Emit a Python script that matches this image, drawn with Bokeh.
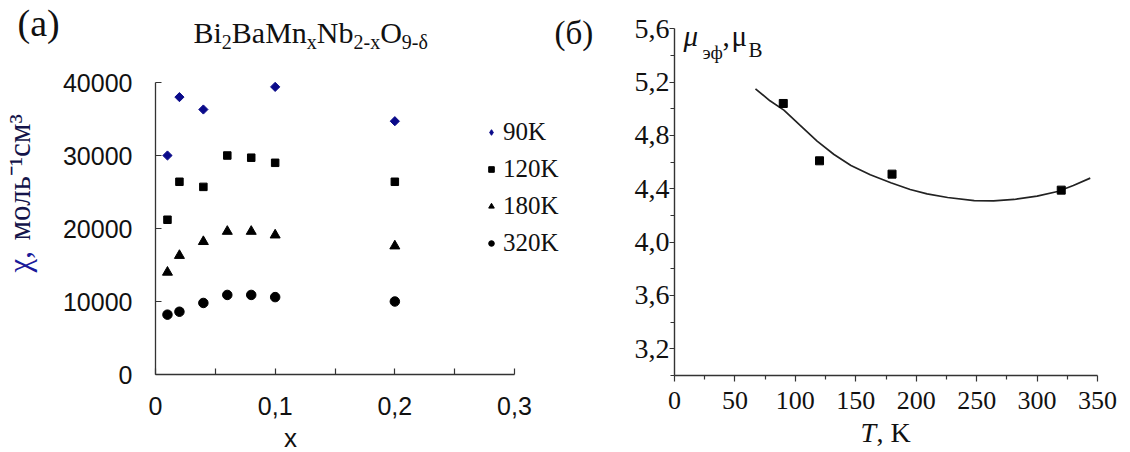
import numpy as np
from bokeh.plotting import figure
from bokeh.layouts import row
from bokeh.models import (FixedTicker, CustomJSTickFormatter, Legend, LegendItem,
                          Label, Range1d)
from bokeh.embed import file_html
from bokeh.resources import INLINE

# ---------------- data: panel (a) ----------------
x_all = [0.01, 0.02, 0.04, 0.06, 0.08, 0.1, 0.2]
x_90K = [0.01, 0.02, 0.04, 0.1, 0.2]
chi_90K = [30000, 38000, 36300, 39400, 34700]
chi_120K = [21200, 26400, 25700, 30000, 29700, 29000, 26400]
chi_180K = [14000, 16300, 18200, 19600, 19600, 19100, 17600]
chi_320K = [8200, 8600, 9800, 10900, 10900, 10600, 10000]
series_names = ["90K", "120K", "180K", "320K"]
a_x_ticks = [0, 0.1, 0.2, 0.3]
a_x_minor = [0.05, 0.15, 0.25]
a_y_ticks = [0, 10000, 20000, 30000, 40000]

# ---------------- data: panel (б) ----------------
T_meas = [90, 120, 180, 320]
mu_meas = [5.04, 4.61, 4.51, 4.39]
T_fit = [67, 79, 90.5, 104, 118, 132, 146, 162, 179, 195, 209, 226, 248, 264,
         281, 300, 317, 330, 344]
mu_fit = [5.15, 5.06, 4.99, 4.875, 4.757, 4.657, 4.575, 4.505, 4.445, 4.395,
          4.362, 4.335, 4.312, 4.31, 4.32, 4.345, 4.38, 4.425, 4.48]
b_x_ticks = [0, 50, 100, 150, 200, 250, 300, 350]
b_x_minor = [25, 75, 125, 175, 225, 275, 325]
b_y_ticks = [3.2, 3.6, 4.0, 4.4, 4.8, 5.2, 5.6]
b_y_minor = [3.0, 3.4, 3.8, 4.2, 4.6, 5.0, 5.4]

SERIF = "Liberation Serif"
SANS = "Liberation Sans"
AX = "#333333"
NAVY = "#0a0a8a"
H = 452
W1, W2 = 600, 530
BASE_SHIFT = 0.38  # empirical correction of the label baseline (fraction of font size)


def style_axis(ax, lw=1.3):
    ax.axis_line_color = AX; ax.axis_line_width = lw
    ax.major_tick_line_color = AX; ax.minor_tick_line_color = AX
    ax.major_tick_line_width = 1.2; ax.minor_tick_line_width = 1.2
    ax.major_label_text_color = "#111"


# ================= panel (a) =================
def LX(px):
    return (px - 155) / 359 * 0.3


def LY(py):
    return (374 - py) / 292 * 40000


p1 = figure(width=W1, height=H, x_range=Range1d(LX(0), LX(W1)), y_range=Range1d(LY(H), LY(0)),
            output_backend="svg", toolbar_location=None,
            min_border=0, min_border_left=0, min_border_right=0,
            min_border_top=0, min_border_bottom=0)
p1.outline_line_color = None
p1.grid.visible = False

xa = p1.xaxis[0]
xa.fixed_location = 0
xa.bounds = (0, 0.3)
xa.ticker = FixedTicker(ticks=a_x_ticks, minor_ticks=a_x_minor)
xa.formatter = CustomJSTickFormatter(code="return tick == 0 ? '0' : tick.toFixed(1).replace('.', ',');")
xa.major_tick_in = 6; xa.major_tick_out = 0
xa.minor_tick_in = 6; xa.minor_tick_out = 0
xa.major_label_standoff = 22
xa.major_label_text_font = SANS; xa.major_label_text_font_size = "25px"
style_axis(xa)

ya = p1.yaxis[0]
ya.fixed_location = 0
ya.bounds = (0, 40000)
ya.ticker = FixedTicker(ticks=a_y_ticks, minor_ticks=[])
ya.formatter = CustomJSTickFormatter(code="return tick.toFixed(0);")
ya.major_tick_in = 6; ya.major_tick_out = 0
ya.minor_tick_in = 0; ya.minor_tick_out = 0
ya.major_label_standoff = 23
ya.major_label_text_font = SANS; ya.major_label_text_font_size = "25px"
style_axis(ya)

r90 = p1.scatter(x_90K, chi_90K, marker="square", angle=np.pi / 4, size=6.5,
                 fill_color=NAVY, line_color=NAVY)
# same series drawn as a (hidden) diamond only to give the legend a diamond glyph
r90_key = p1.scatter(x_90K, chi_90K, marker="diamond", size=9,
                     fill_color=NAVY, line_color=NAVY, visible=False)
r120 = p1.scatter(x_all, chi_120K, marker="square", size=7.5, color="black")
r180 = p1.scatter(x_all, chi_180K, marker="triangle", size=10, color="black")
r320 = p1.scatter(x_all, chi_320K, marker="circle", size=9.5, color="black")

legend = Legend(items=[LegendItem(label=n, renderers=[r]) for n, r in
                       zip(series_names, [r90_key, r120, r180, r320])],
                location=(484, 194.5), orientation="vertical",
                glyph_width=14, glyph_height=14, label_height=29, spacing=8,
                label_standoff=5, padding=0, margin=0,
                border_line_color=None, background_fill_alpha=0,
                inactive_fill_alpha=0,
                label_text_font=SERIF, label_text_font_size="25px",
                label_text_color="#111")
p1.add_layout(legend)


def llabel(px, py, text, size, font=SERIF, color="#111", align="left", angle=0.0, style="normal"):
    if angle == 0.0:
        py = py - BASE_SHIFT * size
    p1.add_layout(Label(x=LX(px), y=LY(py), text=text, text_font=font,
                        text_font_size=f"{size}px", text_color=color, text_font_style=style,
                        text_baseline="alphabetic", text_align=align, angle=angle))


llabel(17, 37, "(a)", 38)
llabel(554, 45, "(б)", 33)
llabel(290, 447, "x", 26, font=SANS, align="center")

TNR = {'B': 667, 'i': 278, 'a': 444, 'M': 889, 'n': 500, 'N': 722, 'b': 500,
       'O': 722, 'x': 500, '-': 333, '2': 500, '9': 500, 'δ': 500}
frags = [("Bi", 0), ("2", 1), ("BaMn", 0), ("x", 1), ("Nb", 0), ("2-x", 1), ("O", 0), ("9-δ", 1)]
cx = 193
for t, sub in frags:
    size = 20 if sub else 30
    llabel(cx, 49 if sub else 43, t, size)
    cx += sum(TNR[c] for c in t) / 1000 * size

# rotated y-axis label
llabel(19, 272, "χ,", 31, color="#1a1a9a", angle=np.pi / 2)
llabel(19, 240, "моль⁻¹см³", 31, color="#14144a", angle=np.pi / 2)


# ================= panel (б) =================
def RX(px):
    return (px - 674) / 423 * 350


def RY(py):
    return 3.2 + (348.3 - py) / 133.33


p2 = figure(width=W2, height=H, x_range=Range1d(RX(W1), RX(W1 + W2)), y_range=Range1d(RY(H), RY(0)),
            output_backend="svg", toolbar_location=None,
            min_border=0, min_border_left=0, min_border_right=0,
            min_border_top=0, min_border_bottom=0)
p2.outline_line_color = None
p2.grid.visible = False

xb = p2.xaxis[0]
xb.fixed_location = 3.0
xb.bounds = (0, 350)
xb.ticker = FixedTicker(ticks=b_x_ticks, minor_ticks=b_x_minor)
xb.formatter = CustomJSTickFormatter(code="return tick.toFixed(0);")
xb.major_tick_in = 0; xb.major_tick_out = 6
xb.minor_tick_in = 0; xb.minor_tick_out = 4
xb.major_label_standoff = 11
xb.major_label_text_font = SERIF; xb.major_label_text_font_size = "26px"
style_axis(xb, 1.4)

yb = p2.yaxis[0]
yb.fixed_location = 0
yb.bounds = (3.0, 5.6)
yb.ticker = FixedTicker(ticks=b_y_ticks, minor_ticks=b_y_minor)
yb.formatter = CustomJSTickFormatter(code="return tick.toFixed(1).replace('.', ',');")
yb.major_tick_in = 0; yb.major_tick_out = 5
yb.minor_tick_in = 0; yb.minor_tick_out = 4
yb.major_label_standoff = 0
yb.major_label_text_font = SERIF; yb.major_label_text_font_size = "28px"
style_axis(yb, 1.4)

p2.line(T_fit, mu_fit, line_color="#222222", line_width=1.7)
p2.scatter(T_meas, mu_meas, marker="square", size=8, color="black")


def rlabel(px, py, text, size, style="normal"):
    py = py - BASE_SHIFT * size
    p2.add_layout(Label(x=RX(px), y=RY(py), text=text, text_font=SERIF,
                        text_font_size=f"{size}px", text_font_style=style,
                        text_color="#111", text_baseline="alphabetic", text_align="left"))


rlabel(683, 47, "μ", 29, "italic")
rlabel(702, 59, "эф", 19)
rlabel(722, 47, ",", 29)
rlabel(731, 47, "μ", 29)
rlabel(748, 57, "B", 21)
rlabel(860, 443, "T", 28, "italic")
rlabel(876, 443, ", K", 28)

layout = row(p1, p2)
open("out.html", "w").write(file_html(layout, INLINE))
